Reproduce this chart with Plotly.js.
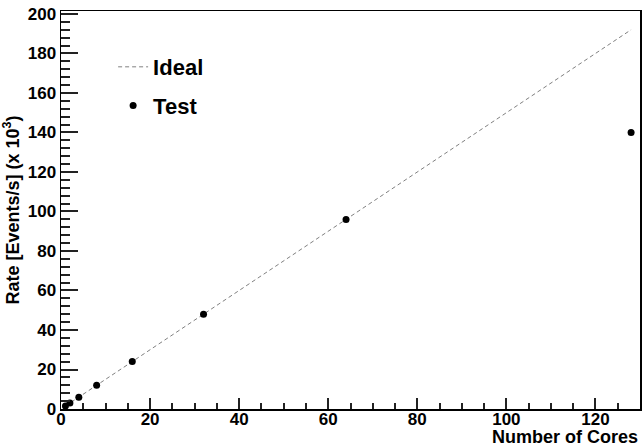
<!DOCTYPE html>
<html>
<head>
<meta charset="utf-8">
<script src="https://cdn.plot.ly/plotly-3.0.1.min.js"></script>
<style>html,body{margin:0;padding:0;background:#fff;}#chart{width:642px;height:447px;}</style>
</head>
<body>
<div id="chart"></div>
<script>
var cores = [1, 2, 4, 8, 16, 32, 64, 128];
var idealRate = [1.5, 3, 6, 12, 24, 48, 96, 192];
var testRate = [1.5, 3, 6, 12, 24, 48, 96, 140];
var xTickStep = 20, xMinorStep = 5;
var yTickStep = 20, yMinorStep = 4;
var xRange = [0, 130];
var yRange = [0, 201.5];

var FONT = "Liberation Sans, Arial, Helvetica, sans-serif";

var traces = [
  {
    x: cores, y: idealRate, name: "<b>Ideal</b>", mode: "lines", legendgroup: "a",
    line: {color: "#808080", width: 1, dash: "4px,3px"}
  },
  {
    x: cores, y: testRate, name: "<b>Test</b>", mode: "markers", legendgroup: "b",
    marker: {color: "#000", size: 7, symbol: "circle"}
  }
];

var layout = {
  width: 642, height: 447,
  margin: {l: 61, r: 2, t: 11, b: 38, pad: 0},
  paper_bgcolor: "#fff", plot_bgcolor: "#fff",
  font: {family: FONT, color: "#000"},
  showlegend: true,
  legend: {
    x: 0.09, y: 0.912, xanchor: "left", yanchor: "top",
    bgcolor: "rgba(0,0,0,0)", tracegroupgap: 7,
    font: {family: FONT, size: 22, color: "#000"}
  },
  xaxis: {
    range: xRange, tickmode: "linear", tick0: 0, dtick: xTickStep,
    showline: true, mirror: true, linecolor: "#000", linewidth: 1.5,
    showgrid: false, zeroline: false,
    ticks: "inside", ticklen: 11, tickwidth: 2, tickcolor: "#222",
    minor: {tick0: 0, dtick: xMinorStep, ticks: "inside", ticklen: 6, tickwidth: 2, tickcolor: "#222", showgrid: false},
    ticklabelstandoff: -6,
    tickfont: {family: FONT, size: 17, color: "#000", weight: "bold"}
  },
  yaxis: {
    range: yRange, tickmode: "linear", tick0: 0, dtick: yTickStep,
    showline: true, mirror: true, linecolor: "#000", linewidth: 1.5,
    showgrid: false, zeroline: false,
    ticks: "inside", ticklen: 17, tickwidth: 2, tickcolor: "#222",
    minor: {tick0: 0, dtick: yMinorStep, ticks: "inside", ticklen: 9, tickwidth: 2, tickcolor: "#222", showgrid: false},
    tickfont: {family: FONT, size: 17, color: "#000", weight: "bold"},
    title: {text: "<b>Rate [Events/s] (x 10<sup>3</sup>)</b>", standoff: 4,
            font: {family: FONT, size: 18, color: "#000"}}
  },
  annotations: [
    {text: "<b>Number of Cores</b>", xref: "paper", yref: "paper", x: 1, y: -0.07,
     xanchor: "right", yanchor: "middle", showarrow: false,
     font: {family: FONT, size: 18, color: "#000"}}
  ]
};

Plotly.newPlot("chart", traces, layout, {displayModeBar: false, staticPlot: true});
</script>
</body>
</html>
